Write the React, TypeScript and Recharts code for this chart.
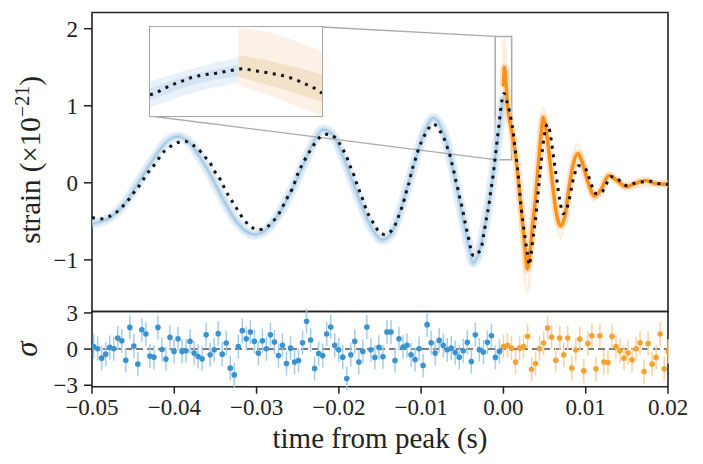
import React from 'react';
import {
  ComposedChart,
  ScatterChart,
  Line,
  Area,
  Scatter,
  ErrorBar,
  XAxis,
  YAxis,
  ReferenceLine,
  ReferenceArea,
} from 'recharts';

// ---- layout (px) ----
const W = 703;
const PLOT_LEFT = 92;
const PLOT_RIGHT = 668;
const MAIN_TOP = 12.5;
const MAIN_BOTTOM = 311.5;
const RES_BOTTOM = 386.7;
const INSET_BOX = { left: 150, top: 27, width: 172, height: 89 };
const FONT = '"Liberation Serif", "Times New Roman", serif';

// ---- axes ----
const X_DOMAIN: [number, number] = [-0.05, 0.02];
const X_TICKS = [-0.05, -0.04, -0.03, -0.02, -0.01, 0, 0.01, 0.02];
const Y_DOMAIN: [number, number] = [-1.67, 2.21];
const Y_TICKS = [-1, 0, 1, 2];
const RES_DOMAIN: [number, number] = [-3.12, 3.12];
const RES_TICKS = [-3, 0, 3];

// ---- max-likelihood waveform (dotted) ----
const ML_T = [
  -0.05, -0.04904, -0.04795, -0.0469, -0.04548, -0.04479, -0.04406, -0.0435, -0.04284, -0.04216,
  -0.04156, -0.04074, -0.03985, -0.03876, -0.03774, -0.03685, -0.03621, -0.03555, -0.03499, -0.03434,
  -0.03385, -0.03333, -0.03272, -0.03215, -0.03151, -0.03078, -0.02977, -0.02871, -0.0279, -0.02729,
  -0.02673, -0.02625, -0.02567, -0.02527, -0.02491, -0.02437, -0.02389, -0.02328, -0.02267, -0.02187,
  -0.02142, -0.0209, -0.02005, -0.01944, -0.01896, -0.01854, -0.01814, -0.01781, -0.01741, -0.01701,
  -0.01668, -0.0162, -0.01559, -0.0149, -0.01443, -0.01393, -0.01316, -0.01276, -0.01235, -0.01203,
  -0.01174, -0.01142, -0.01118, -0.01085, -0.01052, -0.01021, -0.00979, -0.00931, -0.0085, -0.00769,
  -0.0072, -0.0068, -0.00648, -0.00623, -0.00599, -0.00575, -0.00547, -0.00526, -0.00502, -0.00478,
  -0.00453, -0.00425, -0.00405, -0.00384, -0.00356, -0.00335, -0.00299, -0.00263, -0.00243, -0.00222,
  -0.00202, -0.00178, -0.00162, -0.00141, -0.00122, -0.00105, -0.00089, -0.00073, -0.00056, -0.0004,
  -0.0002, 0.00008, 0.00041, 0.00073, 0.00093, 0.00114, 0.0013, 0.00146, 0.00163, 0.00179,
  0.00191, 0.00203, 0.00219, 0.00236, 0.00252, 0.00272, 0.00292, 0.00316, 0.00333, 0.00352,
  0.00373, 0.00394, 0.00409, 0.00425, 0.00442, 0.00458, 0.00474, 0.00495, 0.00519, 0.00537,
  0.00567, 0.00588, 0.00607, 0.00628, 0.00649, 0.00668, 0.00689, 0.00725, 0.00762, 0.00795,
  0.00819, 0.00843, 0.00871, 0.00911, 0.00993, 0.01033, 0.01074, 0.01127, 0.01196, 0.01248,
  0.01305, 0.01378, 0.01439, 0.01507, 0.0158, 0.01682, 0.01783, 0.01883, 0.02,
];
const ML_V = [
  -0.45, -0.47, -0.44, -0.37, -0.21, -0.11, -0.01, 0.09, 0.18, 0.27,
  0.37, 0.45, 0.51, 0.54, 0.49, 0.41, 0.33, 0.24, 0.13, 0.03,
  -0.08, -0.18, -0.28, -0.38, -0.48, -0.56, -0.61, -0.57, -0.49, -0.4,
  -0.29, -0.19, -0.08, 0.03, 0.14, 0.25, 0.35, 0.45, 0.55, 0.62,
  0.63, 0.62, 0.53, 0.42, 0.31, 0.19, 0.09, -0.02, -0.13, -0.24,
  -0.35, -0.45, -0.56, -0.66, -0.67, -0.65, -0.55, -0.44, -0.32, -0.21,
  -0.09, 0.02, 0.14, 0.25, 0.37, 0.47, 0.57, 0.67, 0.76, 0.67,
  0.57, 0.45, 0.35, 0.24, 0.13, 0.01, -0.11, -0.22, -0.32, -0.45,
  -0.58, -0.71, -0.82, -0.92, -0.95, -0.94, -0.9, -0.82, -0.69, -0.56,
  -0.43, -0.3, -0.17, -0.02, 0.13, 0.28, 0.43, 0.58, 0.73, 0.89,
  1.06, 1.16, 1.06, 0.93, 0.82, 0.69, 0.56, 0.41, 0.26, 0.11,
  -0.04, -0.19, -0.35, -0.5, -0.63, -0.78, -0.92, -1.07, -0.95, -0.78,
  -0.61, -0.43, -0.26, -0.09, 0.09, 0.26, 0.43, 0.6, 0.73, 0.76,
  0.65, 0.5, 0.35, 0.19, 0.04, -0.11, -0.25, -0.4, -0.35, -0.24,
  -0.11, 0.02, 0.13, 0.22, 0.19, 0.09, -0.04, -0.14, -0.12, -0.02,
  0.08, 0.06, 0.0, -0.04, -0.01, 0.01, 0.02, -0.01, -0.02,
];

// ---- posterior band before the peak (blue) ----
const BLUE_T = [
  -0.05, -0.04779, -0.04597, -0.04415, -0.04233, -0.04086, -0.03965, -0.03831, -0.0371, -0.03564,
  -0.03418, -0.0326, -0.03126, -0.03017, -0.02896, -0.0275, -0.02592, -0.02446, -0.023, -0.02191,
  -0.02082, -0.0196, -0.01838, -0.01717, -0.01583, -0.01474, -0.01364, -0.01255, -0.01133, -0.01012,
  -0.00915, -0.00854, -0.00781, -0.00684, -0.00587, -0.0049, -0.00417, -0.00368, -0.00307, -0.00222,
  -0.00137, -0.00065, -0.00016, 0.00003,
];
const BLUE_V = [
  -0.53, -0.45, -0.26, 0.04, 0.34, 0.54, 0.6, 0.54, 0.37, 0.11,
  -0.19, -0.48, -0.63, -0.67, -0.62, -0.44, -0.14, 0.2, 0.54, 0.69,
  0.63, 0.37, 0.03, -0.31, -0.62, -0.74, -0.66, -0.37, 0.07, 0.5,
  0.76, 0.84, 0.77, 0.5, 0.04, -0.48, -0.84, -1.04, -0.93, -0.54,
  0.02, 0.6, 0.98, 1.12,
];

// ---- posterior band after the peak (orange) ----
const ORANGE_T = [
  0.0, 0.00012, 0.0005, 0.0011, 0.0016, 0.0019, 0.0023, 0.0026, 0.0029, 0.0032,
  0.0035, 0.0039, 0.0043, 0.0046, 0.00485, 0.0051, 0.0055, 0.0059, 0.0063, 0.00695,
  0.0075, 0.0079, 0.0084, 0.00905, 0.0096, 0.0103, 0.0111, 0.0119, 0.0128, 0.0138,
  0.0149, 0.016, 0.0172, 0.0185, 0.02,
];
const ORANGE_V = [
  1.25, 1.5, 1.0, 0.62, 0.25, -0.05, -0.5, -0.82, -1.12, -0.92,
  -0.6, -0.2, 0.3, 0.66, 0.85, 0.74, 0.42, 0.05, -0.3, -0.56,
  -0.42, -0.12, 0.2, 0.38, 0.26, 0.0, -0.17, -0.08, 0.09, 0.03,
  -0.05, -0.01, 0.03, -0.01, -0.02,
];
// faint outer samples reaching past the core at each extremum
const ORANGE_TIP_T = [0.0, 0.00008, 0.0005, 0.0016, 0.0029, 0.0039, 0.0048, 0.0059, 0.0069, 0.008, 0.009, 0.0103, 0.011, 0.012, 0.0128, 0.0145, 0.02];
const ORANGE_TIP_V = [1.3, 1.9, 1.05, 0.25, -1.4, -0.2, 0.98, 0.05, -0.72, 0.0, 0.5, 0.0, -0.24, -0.05, 0.13, -0.06, -0.02];

// ---- inset (zoom on the peak) ----
const INSET_X: [number, number] = [-0.001, 0.001];
const INSET_Y: [number, number] = [0.3, 1.9];
const INSET_ML_T = [
  -0.001, -0.00094, -0.00084, -0.00074, -0.00064, -0.00054, -0.00044, -0.00033, -0.00023, -0.00012,
  -0.00002, 0.00008, 0.00019, 0.00029, 0.00039, 0.0005, 0.0006, 0.0007, 0.0008, 0.00089, 0.00099, 0.001,
];
const INSET_ML_V = [
  0.68, 0.71, 0.79, 0.86, 0.92, 0.98, 1.02, 1.05, 1.07, 1.1,
  1.13, 1.15, 1.12, 1.1, 1.07, 1.04, 1.0, 0.95, 0.88, 0.82, 0.72, 0.71,
];
const INSET_BLUE_T = [-0.001, -0.0005, 0.00003];
const INSET_BLUE_OUT_LO = [0.45, 0.72, 0.9];
const INSET_BLUE_OUT_HI = [0.92, 1.16, 1.35];
const INSET_BLUE_IN_LO = [0.58, 0.86, 1.02];
const INSET_BLUE_IN_HI = [0.8, 1.05, 1.22];
const INSET_ORANGE_T = [0.00003, 0.0005, 0.001];
const INSET_ORANGE_OUT_LO = [0.85, 0.6, 0.3];
const INSET_ORANGE_OUT_HI = [1.9, 1.75, 1.45];
const INSET_ORANGE_IN_LO = [1.0, 0.8, 0.55];
const INSET_ORANGE_IN_HI = [1.4, 1.25, 1.05];

// ---- whitened residuals (sigma), sampled at 2048 Hz ----
const RES_T0 = -0.0498;
const RES_DT = 1 / 2048;
const BLUE_RES = [
  0.22, 0.03, -0.75, -0.42, 0.14, 0.03, 0.92, 0.69, -0.92, 1.8, 0.25, -1.25, 1.6, 1.25, -0.58, -0.67, 1.8, -0.03,
  -0.83, 0.97, -0.19, 0.86, -0.19, -0.14, 0.64, -0.33, -0.61, -0.81, 1.19, -0.47, -0.06, 1.28, -0.42, 0.5, -1.58, -2.14,
  0.22, 1.53, 0.86, 1.42, 0.64, -0.33, 0.69, 0.03, 1.19, 0.58, -0.53, 0.31, -1.19, 0.08, -1.08, -0.94, 0.53, 2.31,
  0.75, -1.61, -0.36, -0.53, 1.25, 1.83, 0.31, -0.06, -0.67, -2.44, -0.47, 0.64, -1.08, -0.19, 1.83, -0.06, -0.69, 0.14,
  -0.64, 1.42, 1.42, -0.94, 0.86, 0.17, 0.31, -0.47, -0.86, 0.03, -1.36, 2.03, 0.53, -0.33, 0.72, 0.31, -0.06, 0.08,
  -0.28, -0.67, -0.14, 0.56, -1.03, 1.19, -0.06, -0.25, 0.56, 1.11, -0.69, -0.19,
];
const ORANGE_RES = [
  0.22, 0.31, 0.08, -1.08, 0.08, 0.22, 1.06, -1.67, -1.19, 0.03, 0.5, 1.75, 1.0, -0.92, 0.92, -0.47, 0.92, -1.58,
  -0.08, 0.83, -1.81, 0.47, 1.11, -1.64, 1.11, -1.08, -1.11, 1.06, 0.22, -0.14, -0.75, -0.31, -0.89, 0.03, 0.53, -1.86,
  0.47, -1.25, -0.69, 1.25, -1.64, -0.19,
];
const RES_ERR = 1;

// colours
const BLUE_DOT = '#3a93cf';
const BLUE_BAR = '#a3cdec';
const ORANGE_DOT = '#f6a22e';
const ORANGE_BAR = '#f9d19b';

const pairs = (ts: number[], vs: number[]) => ts.map((t, i) => ({ t, v: vs[i] }));
const ranges = (ts: number[], lo: number[], hi: number[]) => ts.map((t, i) => ({ t, r: [lo[i], hi[i]] }));

const mlData = pairs(ML_T, ML_V);
const blueData = pairs(BLUE_T, BLUE_V);
const orangeData = pairs(ORANGE_T, ORANGE_V);
const orangeTipData = pairs(ORANGE_TIP_T, ORANGE_TIP_V);

const insetMl = pairs(INSET_ML_T, INSET_ML_V);
const insetBlueOut = ranges(INSET_BLUE_T, INSET_BLUE_OUT_LO, INSET_BLUE_OUT_HI);
const insetBlueIn = ranges(INSET_BLUE_T, INSET_BLUE_IN_LO, INSET_BLUE_IN_HI);
const insetOrangeOut = ranges(INSET_ORANGE_T, INSET_ORANGE_OUT_LO, INSET_ORANGE_OUT_HI);
const insetOrangeIn = ranges(INSET_ORANGE_T, INSET_ORANGE_IN_LO, INSET_ORANGE_IN_HI);

const blueRes = BLUE_RES.map((s, i) => ({ t: RES_T0 + i * RES_DT, s, e: RES_ERR }));
const orangeRes = ORANGE_RES.map((s, i) => ({ t: RES_T0 + (i + BLUE_RES.length) * RES_DT, s, e: RES_ERR }));

// inset corner (px) -> main-panel data coordinates, for the connector lines
const pxToData = (px: number, py: number) => ({
  x: X_DOMAIN[0] + ((px - PLOT_LEFT) / (PLOT_RIGHT - PLOT_LEFT)) * (X_DOMAIN[1] - X_DOMAIN[0]),
  y: Y_DOMAIN[1] - ((py - MAIN_TOP) / (MAIN_BOTTOM - MAIN_TOP)) * (Y_DOMAIN[1] - Y_DOMAIN[0]),
});
const insetTopRight = pxToData(INSET_BOX.left + INSET_BOX.width, INSET_BOX.top);
const insetBottomLeft = pxToData(INSET_BOX.left, INSET_BOX.top + INSET_BOX.height);

const fmtTick = (v: number) => {
  const d = Math.abs(v) < 1e-9 ? 0 : v;
  return (d < 0 ? '\u2212' : '') + Math.abs(d).toFixed(2);
};
const fmtInt = (v: number) => (v < 0 ? '\u2212' + Math.abs(v) : String(v));

const tickStyle = { fill: '#222', fontSize: 23, fontFamily: FONT };
const INK = '#222';

const dotted = {
  stroke: '#111',
  strokeWidth: 3,
  strokeDasharray: '3 5.5',
};

const band = (data: { t: number; v: number }[], stroke: string, width: number, opacity: number) => (
  <Line
    data={data}
    dataKey="v"
    type="monotone"
    stroke={stroke}
    strokeOpacity={opacity}
    strokeWidth={width}
    dot={false}
    activeDot={false}
    isAnimationActive={false}
  />
);

const App: React.FC = () => {
  return (
    <div style={{ position: 'absolute', left: 0, top: 0, width: W, height: 464, background: '#fff' }}>
      {/* strain panel */}
      <div style={{ position: 'absolute', left: 0, top: 0 }}>
        <ComposedChart
          width={W}
          height={320}
          margin={{ top: MAIN_TOP, right: W - PLOT_RIGHT, bottom: 320 - MAIN_BOTTOM, left: 0 }}
        >
          <XAxis
            type="number"
            dataKey="t"
            domain={X_DOMAIN}
            ticks={X_TICKS}
            allowDataOverflow
            height={0}
            mirror
            tick={false}
            tickSize={9}
            axisLine={false}
            tickLine={{ stroke: INK, strokeWidth: 1.5 }}
          />
          <YAxis
            type="number"
            dataKey="v"
            domain={Y_DOMAIN}
            ticks={Y_TICKS}
            allowDataOverflow
            width={PLOT_LEFT}
            tickSize={8}
            tickMargin={6}
            tick={tickStyle}
            tickFormatter={fmtInt}
            axisLine={false}
            tickLine={{ stroke: INK, strokeWidth: 1.5 }}
            interval={0}
          />

          {band(blueData, '#d6e6f3', 10, 0.7)}
          {band(blueData, '#b3d1ea', 5, 0.55)}
          {band(blueData, '#6aa9d6', 1.3, 0.5)}

          {band(orangeTipData, '#f8d2a6', 3, 0.35)}
          {band(orangeData, '#f9d0a2', 8, 0.55)}
          {band(orangeData, '#ff8c0f', 3.5, 0.95)}

          <ReferenceArea x1={INSET_X[0]} x2={INSET_X[1]} y1={INSET_Y[0]} y2={INSET_Y[1]} fill="none" stroke="#aaa" strokeWidth={1.5} />
          <ReferenceLine segment={[insetTopRight, { x: INSET_X[0], y: INSET_Y[1] }]} stroke="#aaa" strokeWidth={1.3} />
          <ReferenceLine segment={[insetBottomLeft, { x: INSET_X[0], y: INSET_Y[0] }]} stroke="#aaa" strokeWidth={1.3} />

          <Line data={mlData} dataKey="v" type="monotone" {...dotted} dot={false} activeDot={false} isAnimationActive={false} />

          <ReferenceArea x1={X_DOMAIN[0]} x2={X_DOMAIN[1]} y1={Y_DOMAIN[0]} y2={Y_DOMAIN[1]} fill="none" stroke={INK} strokeWidth={1.6} />
        </ComposedChart>
      </div>

      {/* inset */}
      <div
        style={{
          position: 'absolute',
          left: INSET_BOX.left,
          top: INSET_BOX.top,
          width: INSET_BOX.width,
          height: INSET_BOX.height,
          background: '#fff',
          outline: '1.5px solid #a8a8a8',
        }}
      >
        <ComposedChart width={INSET_BOX.width} height={INSET_BOX.height} margin={{ top: 0, right: 0, bottom: 0, left: 0 }}>
          <XAxis type="number" dataKey="t" domain={INSET_X} allowDataOverflow hide />
          <YAxis type="number" domain={INSET_Y} allowDataOverflow hide />
          <Area data={insetBlueOut} dataKey="r" type="monotone" stroke="none" fill="#eaf2f9" fillOpacity={1} isAnimationActive={false} />
          <Area data={insetBlueIn} dataKey="r" type="monotone" stroke="none" fill="#d4e4f2" fillOpacity={1} isAnimationActive={false} />
          <Area data={insetOrangeOut} dataKey="r" type="monotone" stroke="none" fill="#fbf1e6" fillOpacity={1} isAnimationActive={false} />
          <Area data={insetOrangeIn} dataKey="r" type="monotone" stroke="none" fill="#f4e1c9" fillOpacity={1} isAnimationActive={false} />
          <Line data={insetMl} dataKey="v" type="monotone" {...dotted} dot={false} activeDot={false} isAnimationActive={false} />
        </ComposedChart>
      </div>

      {/* residual panel */}
      <div style={{ position: 'absolute', left: 0, top: 300 }}>
        <ScatterChart
          width={W}
          height={164}
          margin={{ top: MAIN_BOTTOM - 300, right: W - PLOT_RIGHT, bottom: 0, left: 0 }}
        >
          <XAxis
            type="number"
            dataKey="t"
            domain={X_DOMAIN}
            ticks={X_TICKS}
            allowDataOverflow
            height={164 - (RES_BOTTOM - 300)}
            tickSize={7}
            tickMargin={5}
            tick={tickStyle}
            tickFormatter={fmtTick}
            axisLine={false}
            tickLine={{ stroke: INK, strokeWidth: 1.5 }}
            interval={0}
          />
          <YAxis
            type="number"
            dataKey="s"
            domain={RES_DOMAIN}
            ticks={RES_TICKS}
            allowDataOverflow
            width={PLOT_LEFT}
            tickSize={8}
            tickMargin={6}
            tick={tickStyle}
            tickFormatter={fmtInt}
            axisLine={false}
            tickLine={{ stroke: INK, strokeWidth: 1.5 }}
            interval={0}
          />
          <ReferenceLine y={0} stroke="#7a7a7a" strokeWidth={2} strokeDasharray="7 4" />
          <Scatter
            data={blueRes}
            isAnimationActive={false}
            shape={(p: any) => <circle cx={p.cx} cy={p.cy} r={2.8} fill={BLUE_DOT} />}
          >
            <ErrorBar dataKey="e" direction="y" width={0} stroke={BLUE_BAR} strokeWidth={1.5} isAnimationActive={false} />
          </Scatter>
          <Scatter
            data={orangeRes}
            isAnimationActive={false}
            shape={(p: any) => <circle cx={p.cx} cy={p.cy} r={2.8} fill={ORANGE_DOT} />}
          >
            <ErrorBar dataKey="e" direction="y" width={0} stroke={ORANGE_BAR} strokeWidth={1.5} isAnimationActive={false} />
          </Scatter>
          <ReferenceArea x1={X_DOMAIN[0]} x2={X_DOMAIN[1]} y1={RES_DOMAIN[0]} y2={RES_DOMAIN[1]} fill="none" stroke={INK} strokeWidth={1.6} />
        </ScatterChart>
      </div>

      {/* axis titles */}
      <svg width={W} height={464} style={{ position: 'absolute', left: 0, top: 0, pointerEvents: 'none' }}>
        <text x={(PLOT_LEFT + PLOT_RIGHT) / 2} y={448} textAnchor="middle" fontFamily={FONT} fontSize={29} fill={INK}>
          time from peak (s)
        </text>
        <text transform="translate(40,160) rotate(-90)" textAnchor="middle" fontFamily={FONT} fontSize={29} fill={INK}>
          strain (×10
          <tspan dy={-11} fontSize={20}>−21</tspan>
          <tspan dy={11}>)</tspan>
        </text>
        <text transform="translate(37,349) rotate(-90)" textAnchor="middle" fontFamily={FONT} fontSize={31} fontStyle="italic" fill={INK}>
          σ
        </text>
      </svg>
    </div>
  );
};

export default App;
